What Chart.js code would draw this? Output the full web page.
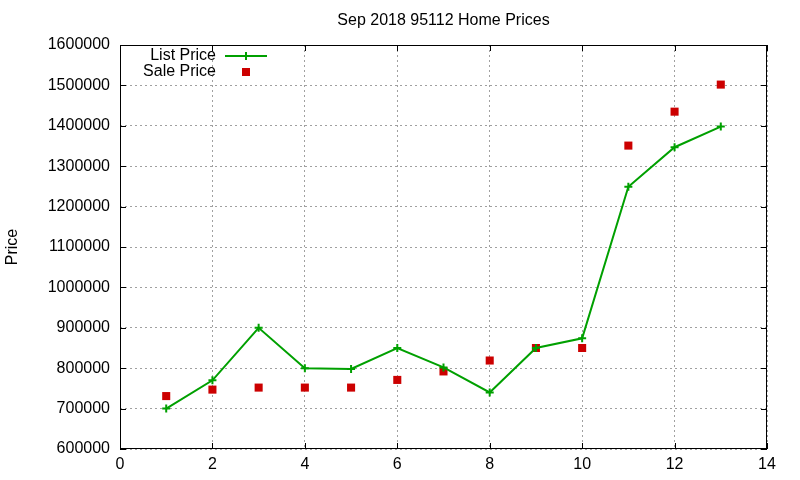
<!DOCTYPE html>
<html>
<head>
<meta charset="utf-8">
<script src="https://cdn.jsdelivr.net/npm/chart.js@4"></script>
<style>
  body { margin: 0; background: #fff; }
  #wrap { width: 800px; height: 480px; }
</style>
</head>
<body>
<div id="wrap"><canvas id="chart" width="800" height="480"></canvas></div>
<script>
// --- data ---
const xValues = [1, 2, 3, 4, 5, 6, 7, 8, 9, 10, 11, 12, 13];
const listPrice = [700000, 770000, 900000, 800000, 798000, 850000, 802000, 740000, 850000, 874000, 1249000, 1347000, 1398000];
const salePrice = [731000, 747000, 752000, 752000, 752000, 771000, 792000, 819000, 850000, 850000, 1351000, 1435000, 1502000];
const seriesNames = ['List Price', 'Sale Price'];
const chartTitle = 'Sep 2018 95112 Home Prices';

const GREEN = '#00a000';
const RED = '#cc0000';
const FONT = '"Liberation Sans", Arial, sans-serif';

const toPoints = (xs, ys) => xs.map((x, i) => ({ x: x, y: ys[i] }));

// gnuplot-like frame, inward ticks, title and key
const gnuplotDecor = {
    id: 'gnuplotDecor',
    afterDraw(chart) {
        const ctx = chart.ctx;
        const a = chart.chartArea;
        const xs = chart.scales.x, ys = chart.scales.y;
        ctx.save();

        // frame
        ctx.strokeStyle = '#000';
        ctx.lineWidth = 1;
        ctx.setLineDash([]);
        ctx.strokeRect(a.left + 0.5, a.top + 0.5, a.right - a.left - 1, a.bottom - a.top - 1);

        // inward ticks on all four sides
        ctx.beginPath();
        xs.ticks.forEach(t => {
            const px = Math.round(xs.getPixelForValue(t.value)) + 0.5;
            ctx.moveTo(px, a.bottom); ctx.lineTo(px, a.bottom - 6);
            ctx.moveTo(px, a.top); ctx.lineTo(px, a.top + 6);
        });
        ys.ticks.forEach(t => {
            const py = Math.round(ys.getPixelForValue(t.value)) + 0.5;
            ctx.moveTo(a.left, py); ctx.lineTo(a.left + 6, py);
            ctx.moveTo(a.right, py); ctx.lineTo(a.right - 6, py);
        });
        ctx.stroke();

        // title
        ctx.fillStyle = '#000';
        ctx.font = '16px ' + FONT;
        ctx.textAlign = 'center';
        ctx.textBaseline = 'middle';
        ctx.fillText(chartTitle, (a.left + a.right) / 2, 21);

        // key
        ctx.textAlign = 'right';
        ctx.fillText(seriesNames[0], 216, 56);
        ctx.fillText(seriesNames[1], 216, 72);

        ctx.strokeStyle = GREEN;
        ctx.lineWidth = 2;
        ctx.beginPath();
        ctx.moveTo(225, 56); ctx.lineTo(267, 56);
        ctx.moveTo(246, 52); ctx.lineTo(246, 60);
        ctx.stroke();

        ctx.fillStyle = RED;
        ctx.fillRect(242, 68, 8, 8);
        ctx.restore();
    }
};

new Chart(document.getElementById('chart').getContext('2d'), {
    type: 'scatter',
    data: {
        datasets: [
            {
                label: seriesNames[0],
                data: toPoints(xValues, listPrice),
                showLine: true,
                borderColor: GREEN,
                borderWidth: 2,
                pointStyle: 'cross',
                pointRadius: 4,
                pointBorderWidth: 2,
                pointBorderColor: GREEN,
                pointBackgroundColor: GREEN,
                tension: 0
            },
            {
                label: seriesNames[1],
                data: toPoints(xValues, salePrice),
                showLine: false,
                pointStyle: 'rect',
                pointRadius: 5.7,
                pointBorderWidth: 0,
                pointBackgroundColor: RED,
                pointBorderColor: RED
            }
        ]
    },
    options: {
        responsive: false,
        animation: false,
        layout: { padding: { left: 0, right: 33, top: 45, bottom: 0 } },
        plugins: {
            legend: { display: false },
            title: { display: false },
            tooltip: { enabled: false }
        },
        scales: {
            x: {
                type: 'linear',
                min: 0, max: 14,
                afterFit: s => { s.height = 31; },
                ticks: { stepSize: 2, color: '#000', padding: 6, font: { size: 16, family: FONT } },
                grid: { color: '#a0a0a0', drawTicks: false, lineWidth: 1 },
                border: { display: false, dash: [2, 3] }
            },
            y: {
                min: 600000, max: 1600000,
                afterFit: s => { s.width = 120; },
                ticks: {
                    stepSize: 100000, color: '#000', padding: 10,
                    font: { size: 16, family: FONT },
                    callback: v => String(v)
                },
                grid: { color: '#a0a0a0', drawTicks: false, lineWidth: 1 },
                border: { display: false, dash: [2, 3] },
                title: {
                    display: true, text: 'Price', color: '#000',
                    padding: { top: 3, bottom: 0 },
                    font: { size: 16, family: FONT }
                }
            }
        }
    },
    plugins: [gnuplotDecor]
});
</script>
</body>
</html>
